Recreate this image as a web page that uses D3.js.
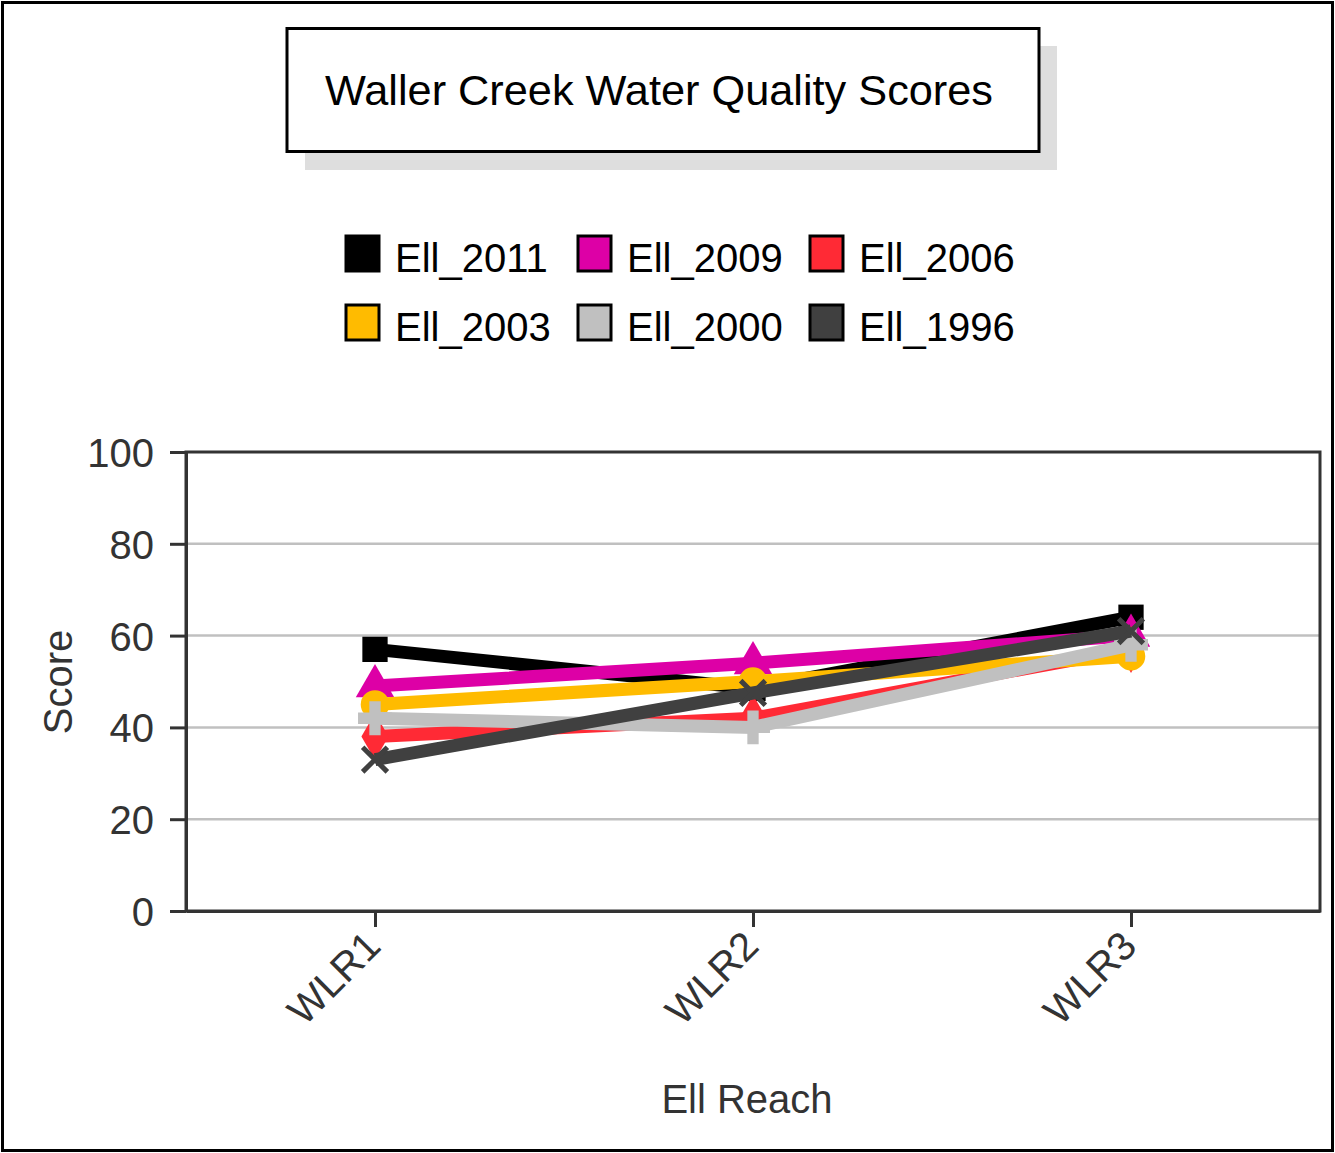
<!DOCTYPE html>
<html lang="en">
<head>
    <meta charset="UTF-8">
    <title>Waller Creek Water Quality Scores</title>
    <script src="https://cdn.jsdelivr.net/npm/d3@7"></script>
    <style>
        body {
            margin: 0;
            background: #fff;
            font-family: "Liberation Sans", Arial, sans-serif;
        }
        svg text {
            font-family: "Liberation Sans", Arial, sans-serif;
        }
    </style>
</head>
<body>
    <div id="chart"></div>

    <script>
        // Reach categories and score series
        const reaches = ["WLR1", "WLR2", "WLR3"];
        const seriesNames = ["Ell_2011", "Ell_2009", "Ell_2006", "Ell_2003", "Ell_2000", "Ell_1996"];
        const ell2011 = [57, 48.5, 64];
        const ell2009 = [49, 54, 60];
        const ell2006 = [38, 42, 57];
        const ell2003 = [45, 50, 55.5];
        const ell2000 = [42, 40, 58];
        const ell1996 = [33, 47.5, 61];
        const yTicks = [0, 20, 40, 60, 80, 100];

        const seriesColors = ["#000000", "#dd00a6", "#ff2a35", "#ffbb00", "#c0c0c0", "#404040"];
        const seriesMarkers = ["square", "triangle", "diamond", "circle", "cross", "x"];
        const seriesValues = [ell2011, ell2009, ell2006, ell2003, ell2000, ell1996];

        const series = seriesNames.map((name, i) => ({
            name: name,
            color: seriesColors[i],
            marker: seriesMarkers[i],
            values: seriesValues[i].map((v, j) => ({ reach: reaches[j], value: v }))
        }));

        const width = 1335;
        const height = 1153;
        const plot = { left: 186, right: 1320, top: 452, bottom: 911 };

        const svg = d3.select("#chart")
            .append("svg")
            .attr("width", width)
            .attr("height", height);

        // outer frame
        svg.append("rect")
            .attr("x", 2.5).attr("y", 2.5)
            .attr("width", width - 5).attr("height", height - 5)
            .attr("fill", "#fff")
            .attr("stroke", "#000")
            .attr("stroke-width", 3);

        // title box with shadow
        svg.append("rect")
            .attr("x", 305).attr("y", 46)
            .attr("width", 752).attr("height", 124)
            .attr("fill", "#dedede");
        svg.append("rect")
            .attr("x", 287).attr("y", 28.5)
            .attr("width", 752).attr("height", 123)
            .attr("fill", "#fff")
            .attr("stroke", "#000")
            .attr("stroke-width", 3);
        svg.append("text")
            .attr("x", 659).attr("y", 105)
            .attr("text-anchor", "middle")
            .attr("font-size", 42)
            .attr("textLength", 668)
            .attr("lengthAdjust", "spacingAndGlyphs")
            .attr("fill", "#000")
            .text("Waller Creek Water Quality Scores");

        // legend
        const legend = svg.append("g");
        const legendItems = legend.selectAll("g")
            .data(series)
            .enter()
            .append("g")
            .attr("transform", (d, i) => `translate(${346 + (i % 3) * 232},${236 + Math.floor(i / 3) * 69})`);
        legendItems.append("rect")
            .attr("x", 0).attr("y", 0)
            .attr("width", 33).attr("height", 35)
            .attr("fill", d => d.color)
            .attr("stroke", "#000")
            .attr("stroke-width", 3);
        legendItems.append("text")
            .attr("x", 49).attr("y", 36)
            .attr("font-size", 40)
            .attr("fill", "#000")
            .text(d => d.name);

        // scales
        const x = d3.scalePoint()
            .domain(reaches)
            .range([plot.left, plot.right])
            .padding(0.5);
        const y = d3.scaleLinear()
            .domain([0, 100])
            .range([plot.bottom, plot.top]);

        // gridlines
        svg.append("g")
            .selectAll("line")
            .data(yTicks.filter(t => t > 0 && t < 100))
            .enter()
            .append("line")
            .attr("x1", plot.left).attr("x2", plot.right)
            .attr("y1", d => y(d)).attr("y2", d => y(d))
            .attr("stroke", "#c0c0c0")
            .attr("stroke-width", 2.5);

        // plot frame
        svg.append("rect")
            .attr("x", plot.left).attr("y", plot.top)
            .attr("width", plot.right - plot.left)
            .attr("height", plot.bottom - plot.top)
            .attr("fill", "none")
            .attr("stroke", "#333")
            .attr("stroke-width", 3);

        // y axis
        const yAxis = svg.append("g")
            .attr("transform", `translate(${plot.left},0)`)
            .call(d3.axisLeft(y).tickValues(yTicks).tickSize(16).tickSizeOuter(0).tickPadding(16));
        yAxis.select(".domain").attr("stroke", "#333").attr("stroke-width", 3);
        yAxis.selectAll(".tick line").attr("stroke", "#333").attr("stroke-width", 3);
        yAxis.selectAll(".tick text")
            .attr("font-size", 40)
            .attr("fill", "#333")
            .attr("dy", "0.36em");

        // x axis
        const xAxis = svg.append("g")
            .attr("transform", `translate(0,${plot.bottom})`)
            .call(d3.axisBottom(x).tickSize(16).tickSizeOuter(0).tickPadding(0));
        xAxis.select(".domain").attr("stroke", "#333").attr("stroke-width", 3);
        xAxis.selectAll(".tick line").attr("stroke", "#333").attr("stroke-width", 3);
        xAxis.selectAll(".tick text")
            .attr("font-size", 40)
            .attr("fill", "#333")
            .attr("text-anchor", "end")
            .attr("dy", "0")
            .attr("transform", "translate(-4,26) rotate(-45)");

        // axis titles
        svg.append("text")
            .attr("transform", "translate(72,682) rotate(-90)")
            .attr("text-anchor", "middle")
            .attr("font-size", 40)
            .attr("fill", "#333")
            .text("Score");
        svg.append("text")
            .attr("x", 747).attr("y", 1113)
            .attr("text-anchor", "middle")
            .attr("font-size", 40)
            .attr("fill", "#333")
            .text("Ell Reach");

        // lines and markers
        const line = d3.line()
            .x(d => x(d.reach))
            .y(d => y(d.value));

        const symbolTypes = {
            square: d3.symbolSquare,
            triangle: d3.symbolTriangle,
            diamond: d3.symbolDiamond,
            circle: d3.symbolCircle,
            cross: d3.symbolCross,
            x: d3.symbolTimes
        };

        const seriesGroups = svg.append("g")
            .selectAll("g")
            .data(series)
            .enter()
            .append("g");

        seriesGroups.append("path")
            .attr("d", d => line(d.values))
            .attr("fill", "none")
            .attr("stroke", d => d.color)
            .attr("stroke-width", 13);

        seriesGroups.each(function(s) {
            const isStroke = s.marker === "x";
            d3.select(this).selectAll("path.marker")
                .data(s.values)
                .enter()
                .append("path")
                .attr("class", "marker")
                .attr("transform", d => `translate(${x(d.reach)},${y(d.value)})`)
                .attr("d", d3.symbol().type(symbolTypes[s.marker]).size(isStroke ? 400 : 640))
                .attr("fill", s.color)
                .attr("stroke", s.color)
                .attr("stroke-width", isStroke ? 5 : 0);
        });
    </script>
</body>
</html>
